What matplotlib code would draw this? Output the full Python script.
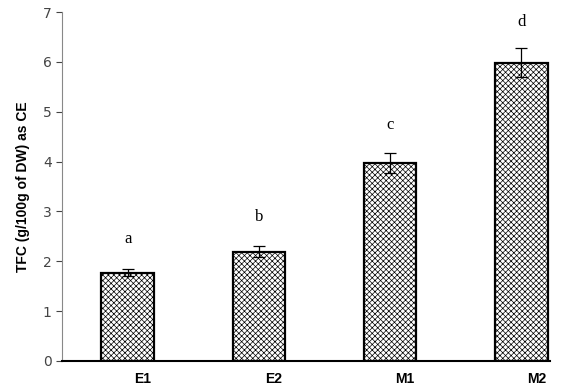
import matplotlib
matplotlib.use('Agg')
import matplotlib.pyplot as plt
import matplotlib.transforms as mtransforms
import numpy as np

plt.rcParams['hatch.color'] = '#6a6a6a'
plt.rcParams['hatch.linewidth'] = 0.5

# Data
samples = ["E1", "E2", "M1", "M2"]
tfc = [1.77, 2.19, 3.98, 5.98]
err = [0.07, 0.11, 0.20, 0.29]
letters = ["a", "b", "c", "d"]
letter_y = [2.45, 2.88, 4.73, 6.8]

x = np.arange(len(samples))

fig = plt.figure(figsize=(5.69, 3.89), dpi=100)
ax = fig.add_axes([0.109, 0.072, 0.858, 0.897])

ax.bar(x, tfc, width=0.4, color='white', edgecolor='black', linewidth=1.6,
       hatch='xxxxxx', zorder=2)
ax.errorbar(x, tfc, yerr=err, fmt='none', ecolor='black', elinewidth=0.9,
            capsize=4, capthick=0.9, zorder=3)

for xi, lab, ly in zip(x, letters, letter_y):
    ax.text(xi, ly, lab, ha='center', va='center', fontsize=12,
            family='Liberation Serif')

ax.set_xlim(-0.5, 3.22)
ax.set_ylim(0, 7)
ax.set_yticks(range(0, 8))
ax.tick_params(axis='y', colors='#444444', labelsize=10, length=4, width=0.8)
ax.tick_params(axis='x', length=0, pad=8)
ax.set_xticks(x)
ax.set_xticklabels(samples, fontsize=10, fontweight='bold', family='Liberation Sans')
offset = mtransforms.ScaledTranslation(0.15, 0, fig.dpi_scale_trans)
for lbl in ax.get_xticklabels():
    lbl.set_transform(lbl.get_transform() + offset)

ax.set_ylabel("TFC (g/100g of DW) as CE", fontsize=10, fontweight='bold',
              family='Liberation Sans', labelpad=9)

ax.spines['top'].set_visible(False)
ax.spines['right'].set_visible(False)
ax.spines['left'].set_color('#888888')
ax.spines['left'].set_linewidth(0.8)
ax.spines['bottom'].set_color('black')
ax.spines['bottom'].set_linewidth(1.5)
ax.spines['bottom'].set_zorder(4)

fig.savefig("out.png", dpi=100)
